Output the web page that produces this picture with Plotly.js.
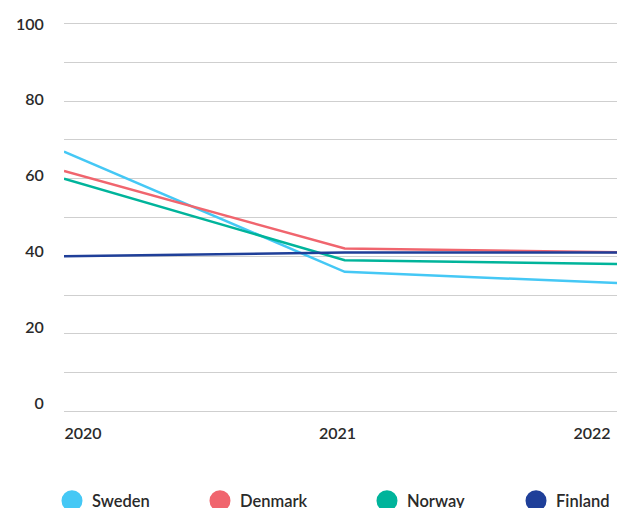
<!DOCTYPE html>
<html>
<head>
<meta charset="utf-8">
<script src="https://cdn.plot.ly/plotly-3.0.1.min.js"></script>
<style>html,body{margin:0;padding:0;background:#fff;}#chart{width:617px;height:508px;}</style>
</head>
<body>
<div id="chart"></div>
<script>
const years = [2020, 2021, 2022];
const seriesNames = ["Sweden", "Denmark", "Norway", "Finland"];
const sweden = [67, 36, 33];
const denmark = [62, 42, 41];
const norway = [60, 39, 38];
const finland = [40, 41, 41];
const colors = ["#45c8f5", "#f0656e", "#00b49b", "#1f3f99"];
const yTickVals = [0, 20, 40, 60, 80, 100];

const seriesValues = [sweden, denmark, norway, finland];
const font = "Lato, 'Open Sans', sans-serif";
const legendIds = ["legend", "legend2", "legend3", "legend4"];
const legendX = [-0.0217, 0.2459, 0.5479, 0.8174];

const traces = [];
seriesValues.forEach((vals, i) => {
  traces.push({
    x: years, y: vals, type: "scatter", mode: "lines",
    line: {color: colors[i], width: 2.5},
    showlegend: false, hoverinfo: "skip", xaxis: "x", yaxis: "y"
  });
});
seriesNames.forEach((name, i) => {
  traces.push({
    x: [null], y: [null], type: "scatter", mode: "markers", name: name,
    legend: legendIds[i],
    marker: {color: colors[i], size: 16, symbol: "circle", line: {color: colors[i], width: 5}},
    showlegend: true, hoverinfo: "skip", xaxis: "x", yaxis: "y"
  });
});
traces.push({x: [], y: [], type: "scatter", mode: "markers", showlegend: false, hoverinfo: "skip", xaxis: "x2", yaxis: "y2"});

const layout = {
  width: 617, height: 508,
  margin: {l: 64, r: 0, t: 22.45, b: 94.95, pad: 0, autoexpand: false},
  paper_bgcolor: "#fff", plot_bgcolor: "#fff",
  font: {family: font, size: 16, color: "#2a2a2a", weight: 600},
  showlegend: true,
  xaxis: {
    range: [2020, 2021.97], showgrid: false, zeroline: false, showline: false,
    showticklabels: false, ticks: "", fixedrange: true
  },
  yaxis: {
    range: [-0.4, 100.4], dtick: 10, tick0: 0, showgrid: true, gridcolor: "#cfcfcf", gridwidth: 1,
    zeroline: false, showline: false, showticklabels: false, ticks: "", fixedrange: true
  },
  xaxis2: {
    overlaying: "x", anchor: "y2", side: "bottom", range: [2019.925, 2022.098],
    tickmode: "array", tickvals: years, ticktext: years.map(String),
    showgrid: false, zeroline: false, showline: false,
    ticks: "outside", ticklen: 6, tickcolor: "rgba(0,0,0,0)",
    tickfont: {family: font, size: 16, color: "#2a2a2a", weight: 600}
  },
  yaxis2: {
    overlaying: "y", anchor: "x2", side: "left", range: [-2.655, 100.545],
    tickmode: "array", tickvals: yTickVals, ticktext: yTickVals.map(String),
    showgrid: false, zeroline: false, showline: false,
    ticks: "outside", ticklen: 16, tickcolor: "rgba(0,0,0,0)",
    tickfont: {family: font, size: 16, color: "#2a2a2a", weight: 600}
  }
};
legendIds.forEach((id, i) => {
  layout[id] = {
    orientation: "h", x: legendX[i], xanchor: "left", y: -0.2252, yanchor: "middle",
    font: {family: font, size: 16.5, color: "#2a2a2a", weight: 600},
    itemsizing: "trace", bgcolor: "rgba(0,0,0,0)"
  };
});

Plotly.newPlot("chart", traces, layout, {displayModeBar: false, staticPlot: true});
</script>
</body>
</html>
